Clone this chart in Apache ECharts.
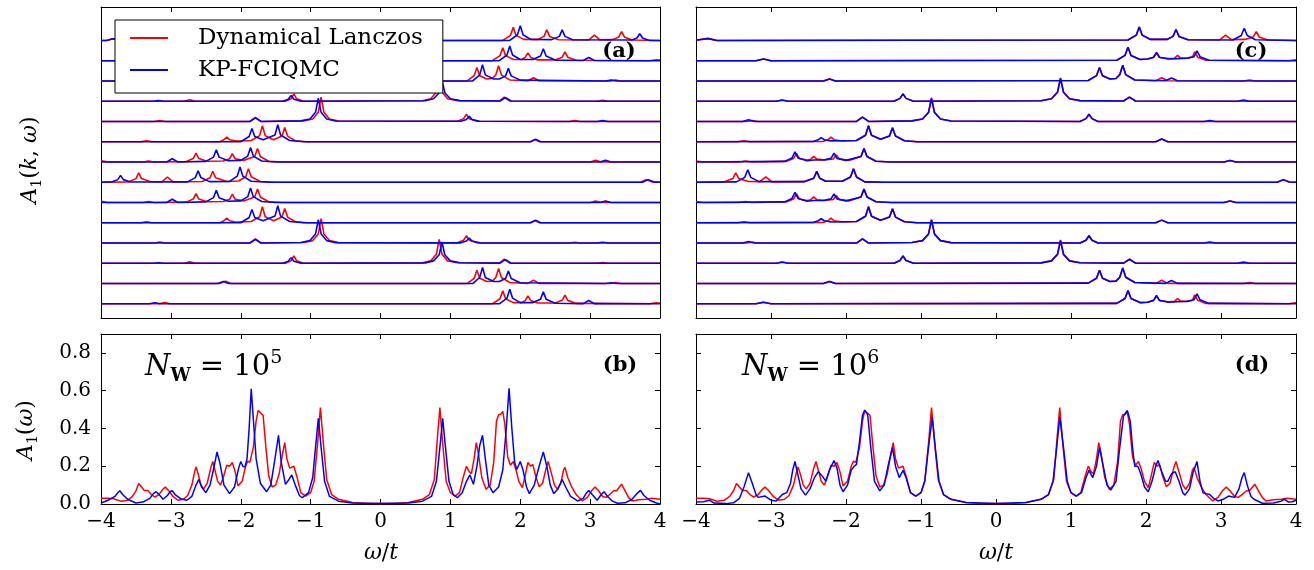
<!DOCTYPE html>
<html><head><meta charset="utf-8">
<script src="https://cdn.jsdelivr.net/npm/echarts@6/dist/echarts.min.js"></script>
<style>html,body{margin:0;padding:0;background:#fff}#c{width:1314px;height:570px}</style>
</head><body><div id="c"></div>
<script>
// ---------------- DATA ----------------
const omegaTicks = [-4, -3, -2, -1, 0, 1, 2, 3, 4];
const aTicks = [0, 0.2, 0.4, 0.6, 0.8];
const seriesNames = ['Dynamical Lanczos', 'KP-FCIQMC'];
// which spectrum each stacked row (top to bottom) shows
const rowOrder = [0, 1, 2, 3, 4, 5, 6, 7, 6, 5, 4, 3, 2, 1];

// Panel (a): A(k,w), Dynamical Lanczos (red) rows 0..7
const aRed = [
 [[-4,0],[-3.92,0],[-3.83,0.08],[-3.74,0],[1.75,0],[1.86,0.25],[1.9,0.65],[1.94,0.25],[2.05,0.05],[2.25,0.05],[2.34,0.2],[2.38,0.52],[2.42,0.2],[2.55,0.03],[2.98,0.02],[3.06,0.26],[3.14,0.03],[3.32,0.04],[3.41,0.17],[3.45,0.43],[3.49,0.17],[3.6,0.02],[4,0]],
 [[-4,0],[-3.17,0],[-3.09,0.06],[-3.01,0],[1.6,0],[1.71,0.25],[1.75,0.64],[1.79,0.25],[1.9,0.06],[2.02,0.06],[2.07,0.16],[2.11,0.39],[2.15,0.16],[2.25,0.04],[2.5,0.04],[2.6,0.17],[2.64,0.43],[2.68,0.17],[2.8,0.02],[3.85,0],[3.95,0.05],[4,0.03]],
 [[-4,0],[-2.3,0],[-2.22,0.12],[-2.14,0],[1.24,0],[1.34,0.26],[1.38,0.66],[1.42,0.26],[1.52,0.1],[1.6,0.12],[1.65,0.3],[1.69,0.75],[1.73,0.3],[1.85,0.05],[2.11,0.01],[2.19,0.16],[2.27,0.01],[3.28,0],[3.36,0.05],[3.44,0],[4,0]],
 [[-4,0],[-2.81,0],[-2.73,0.07],[-2.65,0],[-1.36,0],[-1.28,0.12],[-1.24,0.36],[-1.2,0.12],[-1.1,0],[0.6,0.02],[0.72,0.12],[0.8,0.45],[0.84,1.18],[0.88,0.45],[0.96,0.12],[1.1,0.03],[1.7,0.01],[1.77,0.2],[1.85,0.01],[3.1,0],[3.18,0.04],[3.26,0],[4,0]],
 [[-4,0],[-3.24,0],[-3.16,0.05],[-3.08,0],[-1.87,0],[-1.79,0.2],[-1.71,0],[-1.1,0.03],[-0.97,0.12],[-0.89,0.45],[-0.85,1.2],[-0.81,0.45],[-0.73,0.12],[-0.6,0.02],[1.1,0.01],[1.19,0.14],[1.23,0.36],[1.27,0.14],[1.38,0.01],[2.7,0],[2.78,0.04],[2.86,0],[4,0]],
 [[-4,0],[-3.43,0],[-3.35,0.05],[-3.27,0],[-2.3,0],[-2.24,0.1],[-2.2,0.23],[-2.16,0.1],[-2.06,0.03],[-1.85,0.06],[-1.73,0.3],[-1.69,0.79],[-1.65,0.3],[-1.53,0.1],[-1.41,0.28],[-1.37,0.7],[-1.33,0.28],[-1.22,0.05],[-1.05,0],[2.14,0],[2.21,0.1],[2.28,0],[4,0]],
 [[-4,0.03],[-3.97,0.05],[-3.9,0],[-3.4,0],[-3.32,0.05],[-3.24,0],[-2.78,0.02],[-2.68,0.17],[-2.64,0.44],[-2.6,0.17],[-2.48,0.04],[-2.25,0.05],[-2.16,0.16],[-2.12,0.41],[-2.08,0.16],[-1.96,0.08],[-1.8,0.27],[-1.76,0.67],[-1.72,0.27],[-1.6,0.04],[-1.4,0],[3.0,0],[3.08,0.08],[3.16,0],[4,0]],
 [[-4,0],[-3.6,0.02],[-3.5,0.18],[-3.46,0.46],[-3.42,0.18],[-3.3,0.04],[-3.13,0.02],[-3.05,0.26],[-2.97,0.02],[-2.55,0.04],[-2.44,0.22],[-2.4,0.54],[-2.36,0.22],[-2.2,0.04],[-2.03,0.06],[-1.93,0.27],[-1.89,0.67],[-1.85,0.27],[-1.72,0.04],[-1.5,0],[3.72,0],[3.8,0.13],[3.88,0.02],[4,0]]
];
// Panel (a): KP-FCIQMC (blue) rows 0..7
const aBlue = [
 [[-4,0],[-3.92,0],[-3.83,0.08],[-3.74,0],[1.85,0],[1.96,0.28],[2.0,0.72],[2.04,0.28],[2.15,0.05],[2.45,0.04],[2.56,0.2],[2.6,0.52],[2.64,0.2],[2.75,0.03],[3.6,0.02],[3.67,0.12],[3.71,0.33],[3.75,0.12],[3.85,0],[4,0]],
 [[-4,0],[-3.31,0],[-3.23,0.05],[-3.15,0],[1.7,0],[1.81,0.28],[1.85,0.72],[1.89,0.28],[2.0,0.06],[2.18,0.06],[2.29,0.23],[2.33,0.59],[2.37,0.23],[2.5,0.03],[2.9,0.01],[2.98,0.16],[3.06,0.01],[4,0]],
 [[-4,0],[-2.33,0],[-2.25,0.1],[-2.17,0],[1.32,0],[1.42,0.3],[1.46,0.8],[1.5,0.3],[1.62,0.1],[1.7,0.1],[1.79,0.25],[1.83,0.62],[1.87,0.25],[2.0,0.04],[3.22,0],[3.3,0.04],[3.38,0],[4,0]],
 [[-4,0],[-3.25,0],[-3.18,0.03],[-3.1,0],[-1.4,0],[-1.32,0.1],[-1.28,0.28],[-1.24,0.1],[-1.14,0],[0.64,0.02],[0.76,0.12],[0.84,0.42],[0.88,1.05],[0.92,0.42],[1.0,0.12],[1.14,0.03],[1.71,0.01],[1.79,0.18],[1.87,0.01],[4,0]],
 [[-4,0],[-1.87,0],[-1.79,0.18],[-1.71,0],[-1.14,0.03],[-1.01,0.12],[-0.93,0.45],[-0.89,1.15],[-0.85,0.45],[-0.77,0.12],[-0.64,0.02],[1.15,0.01],[1.23,0.1],[1.27,0.25],[1.31,0.1],[1.42,0.01],[3.1,0],[3.18,0.04],[3.26,0],[4,0]],
 [[-4,0],[-2.0,0],[-1.88,0.26],[-1.84,0.65],[-1.8,0.26],[-1.68,0.1],[-1.51,0.33],[-1.47,0.84],[-1.43,0.33],[-1.3,0.06],[-1.1,0],[2.15,0],[2.22,0.13],[2.29,0],[4,0]],
 [[-4,0],[-3.06,0],[-2.98,0.16],[-2.9,0],[-2.5,0.03],[-2.39,0.24],[-2.35,0.6],[-2.31,0.24],[-2.18,0.06],[-2.0,0.08],[-1.9,0.29],[-1.86,0.72],[-1.82,0.29],[-1.7,0.05],[-1.5,0],[3.14,0],[3.22,0.08],[3.3,0],[4,0]],
 [[-4,0],[-3.84,0.02],[-3.76,0.13],[-3.72,0.34],[-3.68,0.13],[-3.58,0.01],[-2.76,0.02],[-2.65,0.23],[-2.61,0.57],[-2.57,0.23],[-2.45,0.03],[-2.16,0.04],[-2.05,0.3],[-2.01,0.75],[-1.97,0.3],[-1.85,0.05],[-1.6,0],[3.75,0],[3.83,0.13],[3.91,0.02],[4,0]]
];
// Panel (c): Dynamical Lanczos (red) rows 0..7
const cRed = [
 [[-4,0.02],[-3.84,0.1],[-3.72,0],[1.76,0.02],[1.87,0.26],[1.91,0.66],[1.95,0.26],[2.06,0.05],[2.28,0.05],[2.36,0.2],[2.4,0.54],[2.44,0.2],[2.56,0.03],[2.98,0.02],[3.06,0.26],[3.14,0.04],[3.32,0.05],[3.43,0.17],[3.47,0.43],[3.51,0.17],[3.62,0.02],[4,0]],
 [[-4,0],[-3.2,0],[-3.1,0.08],[-3.0,0],[1.61,0.02],[1.72,0.26],[1.76,0.66],[1.8,0.26],[1.92,0.06],[2.02,0.08],[2.1,0.16],[2.14,0.38],[2.18,0.16],[2.3,0.1],[2.38,0.12],[2.42,0.26],[2.46,0.13],[2.56,0.14],[2.62,0.18],[2.65,0.44],[2.69,0.17],[2.8,0.02],[3.9,0],[4,0.05]],
 [[-4,0],[-2.3,0],[-2.22,0.1],[-2.14,0],[1.23,0.02],[1.34,0.26],[1.38,0.66],[1.42,0.26],[1.52,0.1],[1.6,0.12],[1.65,0.31],[1.69,0.77],[1.73,0.31],[1.85,0.05],[2.13,0.01],[2.21,0.16],[2.29,0.01],[3.3,0],[3.38,0.05],[3.46,0],[4,0]],
 [[-4,0],[-2.93,0],[-2.85,0.05],[-2.77,0],[-1.36,0],[-1.28,0.14],[-1.24,0.36],[-1.2,0.14],[-1.1,0],[0.6,0.02],[0.74,0.12],[0.82,0.45],[0.86,1.15],[0.9,0.45],[0.98,0.12],[1.12,0.03],[1.7,0.01],[1.78,0.2],[1.86,0.01],[4,0]],
 [[-4,0],[-3.33,0],[-3.25,0.04],[-3.17,0],[-1.86,0],[-1.78,0.21],[-1.7,0],[-1.12,0.03],[-0.98,0.12],[-0.9,0.45],[-0.86,1.17],[-0.82,0.45],[-0.74,0.12],[-0.6,0.02],[1.12,0],[1.2,0.14],[1.24,0.36],[1.28,0.14],[1.36,0],[4,0]],
 [[-4,0],[-3.44,0],[-3.36,0.05],[-3.28,0],[-2.3,0.02],[-2.24,0.1],[-2.2,0.23],[-2.16,0.1],[-2.05,0.04],[-1.86,0.06],[-1.74,0.32],[-1.7,0.79],[-1.66,0.32],[-1.54,0.12],[-1.42,0.28],[-1.38,0.69],[-1.34,0.28],[-1.22,0.05],[-1.05,0],[2.13,0],[2.21,0.13],[2.29,0],[4,0]],
 [[-4,0.03],[-3.97,0.04],[-3.9,0],[-3.42,0],[-3.34,0.05],[-3.26,0],[-2.8,0.03],[-2.7,0.17],[-2.66,0.43],[-2.62,0.17],[-2.52,0.1],[-2.47,0.14],[-2.43,0.28],[-2.39,0.14],[-2.28,0.1],[-2.17,0.15],[-2.13,0.35],[-2.09,0.15],[-1.96,0.08],[-1.8,0.27],[-1.76,0.66],[-1.72,0.27],[-1.6,0.04],[-1.4,0],[3.04,0],[3.12,0.07],[3.2,0],[4,0]],
 [[-4,0],[-3.62,0.02],[-3.51,0.18],[-3.47,0.46],[-3.43,0.18],[-3.3,0.04],[-3.15,0.03],[-3.07,0.26],[-2.99,0.02],[-2.56,0.03],[-2.43,0.2],[-2.39,0.54],[-2.35,0.2],[-2.27,0.05],[-2.05,0.05],[-1.94,0.26],[-1.9,0.67],[-1.86,0.26],[-1.75,0.02],[-1.5,0],[3.75,0],[3.83,0.12],[3.91,0.01],[4,0]]
];
// Panel (c): KP-FCIQMC (blue) rows 0..7
const cBlue = [
 [[-4,0.01],[-3.84,0.09],[-3.72,0],[1.76,0.02],[1.87,0.26],[1.91,0.66],[1.95,0.26],[2.06,0.05],[2.28,0.05],[2.36,0.2],[2.4,0.54],[2.44,0.2],[2.56,0.03],[3.16,0.02],[3.27,0.24],[3.31,0.6],[3.35,0.24],[3.46,0.03],[4,0]],
 [[-4,0],[-3.2,0],[-3.1,0.08],[-3.0,0],[1.61,0.02],[1.72,0.26],[1.76,0.66],[1.8,0.26],[1.92,0.06],[2.02,0.08],[2.1,0.17],[2.14,0.41],[2.18,0.17],[2.3,0.08],[2.42,0.1],[2.55,0.12],[2.64,0.2],[2.68,0.49],[2.72,0.2],[2.84,0.02],[4,0]],
 [[-4,0],[-2.3,0],[-2.22,0.1],[-2.14,0],[1.23,0.02],[1.34,0.26],[1.38,0.66],[1.42,0.26],[1.52,0.1],[1.6,0.12],[1.65,0.31],[1.69,0.77],[1.73,0.31],[1.85,0.05],[2.26,0.01],[2.34,0.15],[2.42,0.01],[4,0]],
 [[-4,0],[-2.93,0],[-2.85,0.06],[-2.77,0],[-1.36,0],[-1.28,0.14],[-1.24,0.36],[-1.2,0.14],[-1.1,0],[0.6,0.02],[0.74,0.12],[0.82,0.44],[0.86,1.12],[0.9,0.44],[0.98,0.12],[1.12,0.03],[1.7,0.01],[1.78,0.2],[1.86,0.01],[3.22,0],[3.3,0.06],[3.38,0],[4,0]],
 [[-4,0],[-3.38,0],[-3.3,0.08],[-3.22,0],[-1.86,0],[-1.78,0.21],[-1.7,0],[-1.12,0.03],[-0.98,0.12],[-0.9,0.44],[-0.86,1.13],[-0.82,0.44],[-0.74,0.12],[-0.6,0.02],[1.12,0],[1.2,0.14],[1.24,0.36],[1.28,0.14],[1.36,0],[2.77,0],[2.85,0.05],[2.93,0],[4,0]],
 [[-4,0],[-2.43,0.02],[-2.37,0.1],[-2.33,0.2],[-2.29,0.1],[-2.2,0.04],[-1.86,0.06],[-1.74,0.32],[-1.7,0.79],[-1.66,0.32],[-1.54,0.12],[-1.42,0.28],[-1.38,0.69],[-1.34,0.28],[-1.22,0.05],[-1.05,0],[2.13,0],[2.21,0.13],[2.29,0],[4,0]],
 [[-4,0],[-2.82,0.03],[-2.72,0.2],[-2.68,0.5],[-2.64,0.2],[-2.52,0.06],[-2.43,0.1],[-2.3,0.1],[-2.2,0.18],[-2.16,0.43],[-2.12,0.18],[-2.0,0.08],[-1.8,0.27],[-1.76,0.66],[-1.72,0.27],[-1.6,0.04],[-1.4,0],[3.04,0],[3.12,0.07],[3.2,0],[4,0]],
 [[-4,0],[-3.46,0.02],[-3.35,0.24],[-3.31,0.62],[-3.27,0.24],[-3.16,0.03],[-2.56,0.03],[-2.43,0.2],[-2.39,0.54],[-2.35,0.2],[-2.27,0.05],[-2.05,0.05],[-1.94,0.26],[-1.9,0.67],[-1.86,0.26],[-1.75,0.02],[-1.5,0],[3.75,0],[3.83,0.13],[3.91,0.01],[4,0]]
];

// Panels (b),(d): A1(w). The Lanczos curve is the same in both panels.
const lanczosA1 = [[-4,0.03],[-3.9,0.03],[-3.82,0.028],[-3.72,0.015],[-3.62,0.02],[-3.55,0.04],[-3.5,0.07],[-3.46,0.108],[-3.42,0.09],[-3.38,0.072],[-3.33,0.072],[-3.28,0.05],[-3.23,0.037],[-3.17,0.05],[-3.12,0.075],[-3.08,0.09],[-3.03,0.07],[-2.97,0.04],[-2.9,0.02],[-2.82,0.025],[-2.76,0.045],[-2.7,0.1],[-2.66,0.17],[-2.64,0.196],[-2.61,0.16],[-2.57,0.1],[-2.53,0.08],[-2.48,0.11],[-2.43,0.19],[-2.4,0.225],[-2.37,0.18],[-2.33,0.12],[-2.29,0.1],[-2.25,0.14],[-2.2,0.205],[-2.16,0.2],[-2.12,0.22],[-2.08,0.17],[-2.04,0.096],[-1.98,0.12],[-1.93,0.2],[-1.9,0.227],[-1.87,0.22],[-1.82,0.3],[-1.78,0.44],[-1.75,0.495],[-1.71,0.48],[-1.68,0.47],[-1.64,0.3],[-1.6,0.15],[-1.55,0.09],[-1.5,0.1],[-1.45,0.16],[-1.4,0.27],[-1.37,0.325],[-1.34,0.24],[-1.3,0.19],[-1.24,0.2],[-1.2,0.15],[-1.14,0.06],[-1.07,0.042],[-1.0,0.06],[-0.95,0.12],[-0.9,0.32],[-0.86,0.51],[-0.82,0.33],[-0.77,0.13],[-0.7,0.05],[-0.6,0.025],[-0.4,0.008],[-0.2,0.003],[0,0.002],[0.2,0.003],[0.4,0.008],[0.6,0.025],[0.7,0.05],[0.77,0.13],[0.81,0.33],[0.85,0.51],[0.89,0.32],[0.94,0.12],[1.0,0.06],[1.07,0.042],[1.13,0.06],[1.19,0.15],[1.23,0.2],[1.27,0.17],[1.3,0.16],[1.34,0.24],[1.37,0.325],[1.4,0.27],[1.45,0.14],[1.51,0.078],[1.57,0.1],[1.62,0.22],[1.66,0.44],[1.69,0.472],[1.72,0.475],[1.75,0.49],[1.78,0.42],[1.82,0.25],[1.86,0.205],[1.9,0.225],[1.94,0.18],[1.98,0.12],[2.03,0.087],[2.07,0.15],[2.11,0.22],[2.15,0.2],[2.18,0.21],[2.22,0.15],[2.27,0.092],[2.32,0.11],[2.37,0.19],[2.4,0.225],[2.44,0.17],[2.49,0.1],[2.53,0.078],[2.58,0.11],[2.62,0.18],[2.64,0.194],[2.68,0.14],[2.73,0.095],[2.8,0.05],[2.89,0.016],[2.96,0.035],[3.02,0.07],[3.07,0.09],[3.12,0.07],[3.18,0.04],[3.23,0.035],[3.28,0.05],[3.34,0.07],[3.38,0.07],[3.42,0.09],[3.45,0.105],[3.5,0.07],[3.55,0.035],[3.6,0.016],[3.7,0.022],[3.8,0.025],[3.88,0.03],[4,0.025]];

const fciqmcA1_1e5 = [[-4,0.005],[-3.9,0.02],[-3.8,0.04],[-3.76,0.06],[-3.73,0.07],[-3.69,0.05],[-3.62,0.025],[-3.5,0.005],[-3.4,0.01],[-3.3,0.03],[-3.25,0.055],[-3.21,0.065],[-3.17,0.05],[-3.11,0.025],[-3.05,0.045],[-3.01,0.065],[-2.98,0.07],[-2.94,0.05],[-2.86,0.028],[-2.77,0.02],[-2.7,0.04],[-2.64,0.1],[-2.6,0.13],[-2.56,0.09],[-2.5,0.06],[-2.44,0.1],[-2.38,0.2],[-2.34,0.276],[-2.3,0.22],[-2.24,0.1],[-2.16,0.055],[-2.09,0.09],[-2.03,0.19],[-2.0,0.225],[-1.97,0.2],[-1.94,0.195],[-1.91,0.24],[-1.88,0.4],[-1.85,0.61],[-1.82,0.45],[-1.78,0.24],[-1.72,0.11],[-1.63,0.065],[-1.57,0.1],[-1.51,0.24],[-1.46,0.364],[-1.42,0.22],[-1.36,0.104],[-1.31,0.13],[-1.27,0.154],[-1.22,0.1],[-1.16,0.045],[-1.12,0.033],[-1.03,0.06],[-0.97,0.14],[-0.93,0.3],[-0.89,0.454],[-0.85,0.3],[-0.8,0.12],[-0.73,0.04],[-0.6,0.015],[-0.4,0.005],[0,0.002],[0.4,0.005],[0.6,0.015],[0.73,0.04],[0.8,0.12],[0.85,0.3],[0.89,0.454],[0.93,0.3],[0.98,0.12],[1.04,0.05],[1.1,0.033],[1.17,0.06],[1.23,0.12],[1.28,0.154],[1.33,0.104],[1.38,0.2],[1.42,0.31],[1.46,0.364],[1.5,0.24],[1.55,0.1],[1.61,0.06],[1.69,0.09],[1.75,0.18],[1.8,0.4],[1.84,0.612],[1.88,0.4],[1.92,0.22],[1.95,0.183],[2.0,0.225],[2.04,0.18],[2.09,0.09],[2.13,0.055],[2.2,0.1],[2.27,0.2],[2.33,0.276],[2.38,0.2],[2.43,0.1],[2.48,0.055],[2.54,0.08],[2.6,0.13],[2.65,0.09],[2.72,0.04],[2.82,0.016],[2.9,0.03],[2.95,0.06],[2.98,0.072],[3.03,0.05],[3.1,0.02],[3.16,0.05],[3.2,0.065],[3.25,0.04],[3.32,0.015],[3.39,0.004],[3.5,0.006],[3.6,0.025],[3.67,0.055],[3.72,0.072],[3.77,0.045],[3.85,0.02],[3.95,0.005],[4,0.0]];

const fciqmcA1_1e6 = [[-4,0.01],[-3.9,0.012],[-3.82,0.02],[-3.76,0.005],[-3.6,0.002],[-3.5,0.006],[-3.42,0.03],[-3.36,0.09],[-3.3,0.166],[-3.25,0.11],[-3.2,0.05],[-3.17,0.035],[-3.08,0.042],[-3.0,0.02],[-2.93,0.016],[-2.85,0.05],[-2.79,0.06],[-2.74,0.11],[-2.71,0.18],[-2.68,0.225],[-2.65,0.17],[-2.6,0.08],[-2.54,0.047],[-2.48,0.08],[-2.42,0.14],[-2.37,0.171],[-2.32,0.15],[-2.27,0.121],[-2.22,0.18],[-2.16,0.23],[-2.12,0.19],[-2.08,0.1],[-2.04,0.065],[-1.98,0.1],[-1.93,0.18],[-1.89,0.2],[-1.86,0.21],[-1.82,0.33],[-1.78,0.47],[-1.75,0.497],[-1.71,0.47],[-1.67,0.3],[-1.62,0.12],[-1.55,0.07],[-1.49,0.1],[-1.44,0.2],[-1.38,0.299],[-1.34,0.2],[-1.29,0.14],[-1.24,0.178],[-1.2,0.14],[-1.14,0.06],[-1.07,0.042],[-1.0,0.06],[-0.95,0.12],[-0.9,0.3],[-0.85,0.46],[-0.81,0.3],[-0.76,0.12],[-0.7,0.05],[-0.6,0.025],[-0.4,0.008],[0,0.002],[0.4,0.008],[0.6,0.025],[0.7,0.05],[0.76,0.12],[0.81,0.3],[0.85,0.46],[0.9,0.3],[0.95,0.12],[1.0,0.06],[1.07,0.042],[1.14,0.06],[1.2,0.14],[1.24,0.178],[1.29,0.14],[1.34,0.2],[1.38,0.299],[1.43,0.2],[1.48,0.1],[1.53,0.074],[1.6,0.12],[1.65,0.3],[1.7,0.466],[1.75,0.495],[1.79,0.44],[1.82,0.3],[1.85,0.2],[1.89,0.2],[1.93,0.16],[1.98,0.09],[2.03,0.065],[2.08,0.12],[2.13,0.2],[2.16,0.23],[2.21,0.17],[2.26,0.12],[2.29,0.12],[2.34,0.16],[2.39,0.171],[2.44,0.12],[2.49,0.06],[2.52,0.047],[2.58,0.08],[2.63,0.17],[2.68,0.225],[2.72,0.12],[2.76,0.06],[2.8,0.055],[2.85,0.05],[2.9,0.03],[2.96,0.016],[3.03,0.025],[3.1,0.042],[3.18,0.035],[3.24,0.08],[3.28,0.14],[3.31,0.166],[3.35,0.1],[3.4,0.04],[3.44,0.025],[3.55,0.004],[3.7,0.005],[3.8,0.015],[3.85,0.025],[3.9,0.01],[3.95,0.012],[4,0.02]];

// ---------------- CHART ----------------
const RED = '#ff0000', BLUE = '#0000ff', AX = '#000';
const SERIF = '"DejaVu Serif", serif';
const chart = echarts.init(document.getElementById('c'), null, {renderer: 'canvas'});

const grids = [
  {left: 101, top: 7, width: 559, height: 311},
  {left: 696, top: 7, width: 600, height: 311},
  {left: 101, top: 334, width: 559, height: 170},
  {left: 696, top: 334, width: 600, height: 170}
];
const fmtX = v => (v < 0 ? '\u2212' + Math.abs(v) : String(v));
const xAxes = [], yAxes = [];
grids.forEach((g, gi) => {
  ['bottom', 'top'].forEach(pos => {
    xAxes.push({
      type: 'value', gridIndex: gi, position: pos, min: -4, max: 4, interval: 1,
      axisLine: {show: true, onZero: false, lineStyle: {color: AX, width: 1}},
      axisTick: {show: true, inside: true, length: 5, lineStyle: {color: AX, width: 1}},
      axisLabel: {show: gi >= 2 && pos === 'bottom', formatter: fmtX, color: '#000',
        fontFamily: SERIF, fontSize: 20, margin: 8},
      splitLine: {show: false}
    });
  });
  ['left', 'right'].forEach(pos => {
    const bottomPanel = gi >= 2;
    yAxes.push({
      type: 'value', gridIndex: gi, position: pos,
      min: bottomPanel ? 0 : -0.7, max: bottomPanel ? 0.9 : 14.65,
      axisLine: {show: true, onZero: false, lineStyle: {color: AX, width: 1}},
      axisTick: {show: bottomPanel, inside: true, length: 5, customValues: aTicks, lineStyle: {color: AX}},
      axisLabel: {show: gi === 2 && pos === 'left', customValues: aTicks, formatter: v => v.toFixed(1),
        color: '#000', fontFamily: SERIF, fontSize: 20, margin: 10},
      splitLine: {show: false}
    });
  });
});

const series = [];
function addStack(gi, redRows, blueRows) {
  rowOrder.forEach((spec, i) => {
    const off = rowOrder.length - 1 - i;
    [[redRows, RED, 0], [blueRows, BLUE, 1]].forEach(([rows, col, ni]) => {
      series.push({
        type: 'line', name: seriesNames[ni], xAxisIndex: 2 * gi, yAxisIndex: 2 * gi,
        data: rows[spec].map(p => [p[0], p[1] + off]),
        symbol: 'none', smooth: false, silent: true, z: 2 + ni,
        lineStyle: {color: col, width: 1.6}, itemStyle: {color: col}
      });
    });
  });
}
addStack(0, aRed, aBlue);
addStack(1, cRed, cBlue);
function addA1(gi, data, col, ni) {
  series.push({
    type: 'line', name: seriesNames[ni], xAxisIndex: 2 * gi, yAxisIndex: 2 * gi, data,
    symbol: 'none', smooth: false, silent: true, z: 2 + ni,
    lineStyle: {color: col, width: 1.5}, itemStyle: {color: col}
  });
}
addA1(2, lanczosA1, RED, 0);
addA1(2, fciqmcA1_1e5, BLUE, 1);
addA1(3, lanczosA1, RED, 0);
addA1(3, fciqmcA1_1e6, BLUE, 1);

const itStyle = {fontFamily: SERIF, fontStyle: 'italic', fontSize: 22, lineHeight: 28, fill: '#000'};
const upStyle = {fontFamily: SERIF, fontSize: 22, lineHeight: 28, fill: '#000'};
const subStyle = {fontFamily: SERIF, fontSize: 14, lineHeight: 14, verticalAlign: 'bottom', fill: '#000'};
function txt(x, y, text, rich, extra) {
  return {type: 'text', x, y, silent: true, z: 100,
    style: Object.assign({text, rich, align: 'center', verticalAlign: 'middle', fill: '#000'}, extra || {})};
}
const nwRich = {
  i: {fontFamily: SERIF, fontStyle: 'italic', fontSize: 29, lineHeight: 36, fill: '#000'},
  b: {fontFamily: SERIF, fontWeight: 'bold', fontSize: 18, lineHeight: 18, verticalAlign: 'bottom', fill: '#000'},
  n: {fontFamily: SERIF, fontSize: 29, lineHeight: 36, fill: '#000'},
  p: {fontFamily: SERIF, fontSize: 19, lineHeight: 19, verticalAlign: 'top', fill: '#000'}
};
const graphic = [
  Object.assign(txt(30, 160, '{i|A}{s|1}{n|(}{i|k}{n|, }{i|\u03c9}{n|)}', {i: itStyle, n: upStyle, s: subStyle}), {rotation: Math.PI / 2}),
  Object.assign(txt(26, 430, '{i|A}{s|1}{n|(}{i|\u03c9}{n|)}', {i: itStyle, n: upStyle, s: subStyle}), {rotation: Math.PI / 2}),
  txt(381, 553, '{i|\u03c9}{n|/}{i|t}', {i: itStyle, n: upStyle}),
  txt(996, 553, '{i|\u03c9}{n|/}{i|t}', {i: itStyle, n: upStyle}),
  txt(619, 52, '(a)', null, {font: 'bold 21px ' + SERIF}),
  txt(1251, 52, '(c)', null, {font: 'bold 21px ' + SERIF}),
  txt(620, 366, '(b)', null, {font: 'bold 21px ' + SERIF}),
  txt(1252, 366, '(d)', null, {font: 'bold 21px ' + SERIF}),
  txt(145, 367, '{i|N}{b|W}{n| = 10}{p|5}', nwRich, {align: 'left'}),
  txt(742, 367, '{i|N}{b|W}{n| = 10}{p|6}', nwRich, {align: 'left'})
];

chart.setOption({
  animation: false,
  backgroundColor: '#fff',
  grid: grids,
  xAxis: xAxes,
  yAxis: yAxes,
  legend: {
    data: seriesNames, orient: 'vertical', left: 115, top: 20,
    padding: [4, 20, 9, 15], itemGap: 4, itemWidth: 38, itemHeight: 2, icon: 'rect',
    backgroundColor: '#fff', borderColor: '#000', borderWidth: 1, borderRadius: 0,
    selectedMode: false, z: 10,
    textStyle: {fontFamily: SERIF, fontSize: 23, lineHeight: 28, color: '#000', padding: [0, 0, 0, 25]}
  },
  series,
  graphic
});
</script></body></html>
